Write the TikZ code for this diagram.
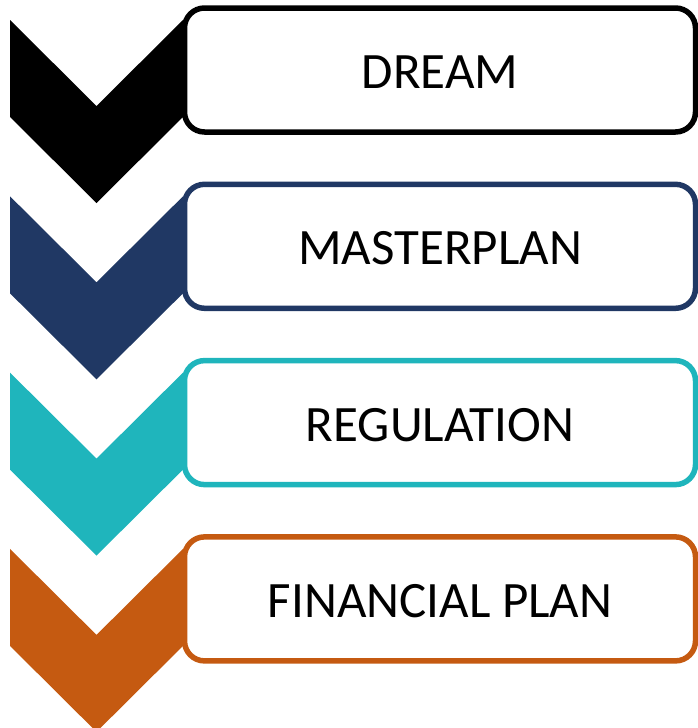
\documentclass[tikz,border=0pt]{standalone}
\usepackage{fontspec}
\setmainfont{Carlito}
\definecolor{cnavy}{RGB}{32,56,100}
\definecolor{cteal}{RGB}{31,181,188}
\definecolor{corange}{RGB}{197,90,17}
\begin{document}
\begin{tikzpicture}[x=1pt,y=-1pt,
  stepbox/.style={draw, line width=5.5pt, fill=white, rounded corners=20pt,
    minimum width=511pt, minimum height=124pt, inner sep=0pt},
  steptext/.style={anchor=base, font=\fontsize{51}{60}\selectfont, text=black, inner sep=0pt}]
\useasboundingbox (0,0) rectangle (697,728);
\foreach \k/\col/\txt in {0/black/DREAM,1/cnavy/MASTERPLAN,2/cteal/REGULATION,3/corange/FINANCIAL PLAN}{
  \pgfmathsetmacro{\yo}{176.3*\k}
  \begin{scope}[yshift=-\yo pt]
    \fill[\col] (10,20) -- (96.5,106) -- (183,20) -- (183,117) -- (96.5,203) -- (10,117) -- cycle;
    \node[stepbox, draw=\col] (box\k) at (440,70) {};
    \node[steptext] (txt\k) at (440,88.5) {\txt};
  \end{scope}
}
\end{tikzpicture}
\end{document}
